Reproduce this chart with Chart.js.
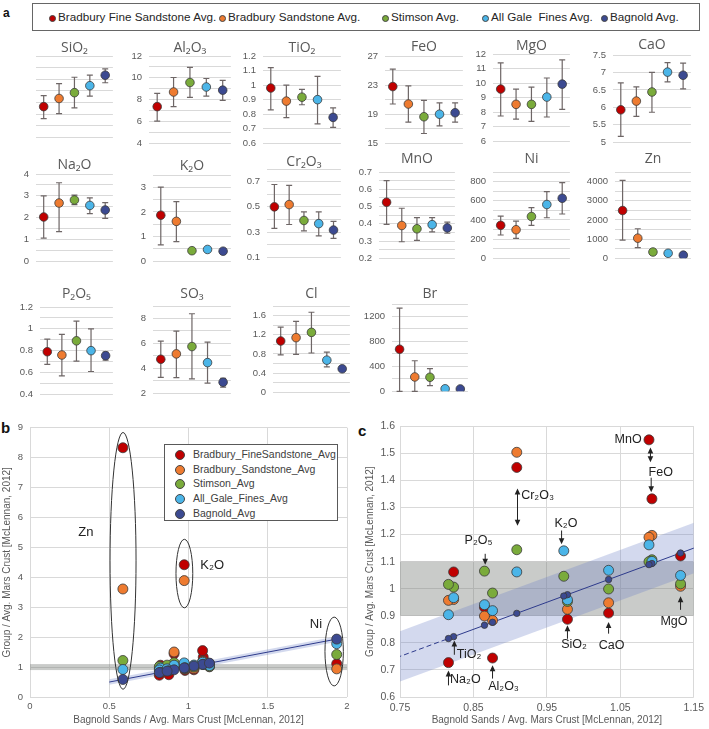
<!DOCTYPE html>
<html>
<head>
<meta charset="utf-8">
<script src="https://cdn.jsdelivr.net/npm/chart.js@4.4.0/dist/chart.umd.min.js"></script>
<style>
body { margin: 0; width: 709px; height: 729px; position: relative; background: #fff; overflow: hidden; font-family: 'Liberation Sans', Arial, sans-serif; }
.panel { position: absolute; }
.tag { position: absolute; font-weight: bold; color: #111; }
#legendA { position: absolute; left: 32px; top: 3px; width: 668px; height: 28px; border: 1px solid #666; box-sizing: border-box; }
#legendB { position: absolute; left: 164px; top: 444px; width: 174px; height: 77px; border: 1px solid #595959; box-sizing: border-box; background: #fff; }
.item { position: absolute; white-space: pre; color: #262626; }
.dot { position: absolute; border-radius: 50%; box-sizing: border-box; border: 1px solid #444; }
</style>
</head>
<body>
<div class="tag" style="left:3px;top:6px;font-size:12px;">a</div>
<div id="legendA"></div>
<div class="tag" style="left:1px;top:419px;font-size:15px;">b</div>
<div class="tag" style="left:358px;top:422px;font-size:15px;">c</div>
<div class="panel" style="left:0;top:415px;width:355px;height:314px;"><canvas id="chartB"></canvas></div>
<div class="panel" style="left:358px;top:415px;width:351px;height:314px;"><canvas id="chartC"></canvas></div>
<div id="legendB"></div>
<script>
// ---- panel a: group averages with error bars ----
const groupNames = ['Bradbury Fine Sandstone Avg.', 'Bradbury Sandstone Avg.', 'Stimson Avg.', 'All Gale  Fines Avg.', 'Bagnold Avg.'];
const seriesNames = ['Bradbury_FineSandstone_Avg', 'Bradbury_Sandstone_Avg', 'Stimson_Avg', 'All_Gale_Fines_Avg', 'Bagnold_Avg'];
const colors = ['#c00000', '#ee7b30', '#7aab3b', '#4bb5e8', '#3c4a91'];

const sio2Avg = [41.3, 42.7, 43.7, 44.9, 46.7];
const sio2Low = [39.25, 40.1, 41.1, 43.1, 45.4];
const sio2High = [43.2, 45.25, 46.35, 46.7, 47.8];
const al2o3Avg = [7.36, 8.7, 9.57, 9.16, 8.87];
const al2o3Low = [6.03, 7.36, 8.2, 8.32, 7.94];
const al2o3High = [8.58, 10.03, 10.96, 9.94, 9.77];
const tio2Avg = [0.98, 0.89, 0.917, 0.9, 0.778];
const tio2Low = [0.83, 0.776, 0.865, 0.733, 0.71];
const tio2High = [1.12, 1.0, 0.97, 1.06, 0.843];
const feoAvg = [22.8, 20.4, 18.65, 19.0, 19.2];
const feoLow = [20.4, 17.9, 16.35, 17.4, 17.9];
const feoHigh = [25.2, 22.9, 20.9, 20.56, 20.56];
const mgoAvg = [9.59, 8.54, 8.54, 9.04, 9.93];
const mgoLow = [7.74, 7.52, 7.37, 7.67, 8.2];
const mgoHigh = [11.39, 9.59, 9.72, 10.35, 11.6];
const caoAvg = [5.93, 6.18, 6.44, 7.01, 6.92];
const caoLow = [5.17, 5.74, 5.86, 6.73, 6.53];
const caoHigh = [6.7, 6.59, 7.0, 7.28, 7.27];
const na2oAvg = [2.03, 2.67, 2.81, 2.56, 2.35];
const na2oLow = [1.06, 1.36, 2.6, 2.18, 1.97];
const na2oHigh = [3.0, 3.6, 3.03, 2.91, 2.69];
const k2oAvg = [1.87, 1.62, 0.43, 0.48, 0.41];
const k2oLow = [0.67, 0.8, 0.39, 0.4, 0.37];
const k2oHigh = [3.01, 2.42, 0.47, 0.56, 0.45];
const cr2o3Avg = [0.5, 0.518, 0.392, 0.367, 0.316];
const cr2o3Low = [0.33, 0.36, 0.31, 0.27, 0.25];
const cr2o3High = [0.677, 0.67, 0.46, 0.46, 0.385];
const mnoAvg = [0.525, 0.39, 0.371, 0.395, 0.376];
const mnoLow = [0.396, 0.296, 0.304, 0.353, 0.345];
const mnoHigh = [0.65, 0.49, 0.436, 0.436, 0.41];
const niAvg = [344, 298, 436, 561, 626];
const niLow = [243, 207, 344, 423, 462];
const niHigh = [439, 387, 528, 695, 790];
const znAvg = [2492, 1049, 328, 262, 164];
const znLow = [951, 557, 250, 210, 125];
const znHigh = [4066, 1541, 410, 315, 205];
const p2o5Avg = [0.79, 0.76, 0.89, 0.8, 0.754];
const p2o5Low = [0.675, 0.568, 0.704, 0.609, 0.713];
const p2o5High = [0.906, 0.95, 1.07, 1.0, 0.787];
const so3Avg = [4.73, 5.16, 5.75, 4.46, 2.89];
const so3Low = [3.27, 3.25, 3.15, 2.81, 2.5];
const so3High = [6.18, 6.99, 8.38, 6.1, 3.19];
const clAvg = [1.07, 1.14, 1.25, 0.67, 0.49];
const clLow = [0.78, 0.79, 0.82, 0.53, 0.46];
const clHigh = [1.36, 1.48, 1.67, 0.84, 0.53];
const brAvg = [675, 230, 225, 40, 38];
const brLow = [0, 0, 90, 25, 25];
const brHigh = [1335, 490, 365, 55, 50];

// ---- panels b, c: ratios to average Mars crust ----
const ratioElements = ['SiO₂', 'TiO₂', 'Al₂O₃', 'Cr₂O₃', 'FeO', 'MnO', 'MgO', 'CaO', 'Na₂O', 'K₂O', 'P₂O₅', 'Ni', 'Zn'];
const bagnoldRatio = [0.978, 0.823, 0.876, 0.909, 1.093, 1.089, 1.132, 1.034, 0.816, 0.973, 0.865, 1.935, 0.586];
const fineSandRatio = [0.887, 1.062, 0.744, 1.448, 1.332, 1.55, 1.121, 0.91, 0.727, 4.42, 0.932, 1.11, 8.33];
const sandRatio = [0.924, 0.96, 0.883, 1.504, 1.197, 1.19, 1.009, 0.948, 0.957, 3.89, 0.899, 0.94, 3.61];
const stimsonRatio = [0.953, 1.006, 0.984, 1.144, 1.107, 1.1, 1.018, 0.999, 1.016, 1.046, 1.065, 1.42, 1.22];
const galeFinesRatio = [0.959, 0.967, 0.919, 1.062, 1.101, 1.162, 1.049, 1.068, 0.904, 1.14, 0.941, 1.78, 0.92];
const fitLineX = [0.5, 0.816, 1.94];
const bandHalfWidth = 0.093;
const unityBand = [0.9, 1.1];

const tickFont = "'Liberation Sans', Arial, sans-serif";
Chart.defaults.font.family = tickFont;
Chart.defaults.color = '#595959';

const panelSpecs = [
  { t: 'SiO₂', avg: sio2Avg, lo: sio2Low, hi: sio2High, min: 35, max: 50, step: 2, lab: 4, x0: 36, x1: 115, top: 56, bot: 148, ty: 48 },
  { t: 'Al₂O₃', avg: al2o3Avg, lo: al2o3Low, hi: al2o3High, min: 4, max: 12, step: 1, lab: 2, x0: 149, x1: 233, top: 56, bot: 148, ty: 48 },
  { t: 'TiO₂', avg: tio2Avg, lo: tio2Low, hi: tio2High, min: 0.6, max: 1.2, step: 0.1, lab: 0.1, x0: 263, x1: 343, top: 56, bot: 148, ty: 48 },
  { t: 'FeO', avg: feoAvg, lo: feoLow, hi: feoHigh, min: 15, max: 27, step: 2, lab: 4, x0: 385, x1: 465, top: 56, bot: 148, ty: 47 },
  { t: 'MgO', avg: mgoAvg, lo: mgoLow, hi: mgoHigh, min: 6, max: 12, step: 1, lab: 1, x0: 493, x1: 572, top: 54, bot: 146, ty: 46 },
  { t: 'CaO', avg: caoAvg, lo: caoLow, hi: caoHigh, min: 5, max: 7.5, step: 0.5, lab: 0.5, x0: 613, x1: 693, top: 55, bot: 147, ty: 45 },
  { t: 'Na₂O', avg: na2oAvg, lo: na2oLow, hi: na2oHigh, min: 0, max: 4, step: 0.5, lab: 1, x0: 36, x1: 115, top: 174, bot: 266, ty: 165 },
  { t: 'K₂O', avg: k2oAvg, lo: k2oLow, hi: k2oHigh, min: 0, max: 3.5, step: 0.5, lab: 1, x0: 153, x1: 233, top: 175, bot: 266, ty: 166 },
  { t: 'Cr₂O₃', avg: cr2o3Avg, lo: cr2o3Low, hi: cr2o3High, min: 0.1, max: 0.8, step: 0.1, lab: 0.2, x0: 267, x1: 343, top: 169, bot: 262, ty: 162 },
  { t: 'MnO', avg: mnoAvg, lo: mnoLow, hi: mnoHigh, min: 0.2, max: 0.7, step: 0.05, lab: 0.1, x0: 379, x1: 457, top: 172, bot: 263, ty: 159 },
  { t: 'Ni', avg: niAvg, lo: niLow, hi: niHigh, min: 0, max: 900, step: 100, lab: 200, x0: 493, x1: 572, top: 172, bot: 263, ty: 159 },
  { t: 'Zn', avg: znAvg, lo: znLow, hi: znHigh, min: 0, max: 4500, step: 500, lab: 1000, x0: 615, x1: 693, top: 172, bot: 263, ty: 159 },
  { t: 'P₂O₅', avg: p2o5Avg, lo: p2o5Low, hi: p2o5High, min: 0.4, max: 1.2, step: 0.1, lab: 0.2, x0: 40, x1: 115, top: 307, bot: 399, ty: 294 },
  { t: 'SO₃', avg: so3Avg, lo: so3Low, hi: so3High, min: 2, max: 9, step: 1, lab: 2, x0: 153, x1: 233, top: 306, bot: 398, ty: 294 },
  { t: 'Cl', avg: clAvg, lo: clLow, hi: clHigh, min: 0, max: 1.8, step: 0.2, lab: 0.4, x0: 273, x1: 352, top: 306, bot: 397, ty: 294 },
  { t: 'Br', avg: brAvg, lo: brLow, hi: brHigh, min: 0, max: 1400, step: 200, lab: 400, x0: 392, x1: 470, top: 304, bot: 396, ty: 294 }
];

// whiskers under the markers
const errorBars = {
  id: 'errorBars',
  beforeDatasetsDraw(chart) {
    const ds = chart.data.datasets[0];
    const { ctx, scales: { x, y } } = chart;
    ctx.save();
    ctx.strokeStyle = '#6e6666';
    ctx.lineWidth = 1.2;
    ds.errLow.forEach((lo, i) => {
      const px = x.getPixelForValue(i);
      const pLo = y.getPixelForValue(lo);
      const pHi = y.getPixelForValue(ds.errHigh[i]);
      ctx.beginPath();
      ctx.moveTo(px, pLo); ctx.lineTo(px, pHi);
      ctx.moveTo(px - 3, pLo); ctx.lineTo(px + 3, pLo);
      ctx.moveTo(px - 3, pHi); ctx.lineTo(px + 3, pHi);
      ctx.stroke();
    });
    ctx.restore();
  }
};

const panelTitle = {
  id: 'panelTitle',
  afterDraw(chart) {
    const ds = chart.data.datasets[0];
    const { ctx, chartArea } = chart;
    ctx.save();
    ctx.font = "14px 'Open Sans', 'DejaVu Sans', sans-serif";
    ctx.fillStyle = '#595959';
    ctx.textAlign = 'center';
    ctx.textBaseline = 'middle';
    ctx.fillText(ds.titleText, (chartArea.left + chartArea.right) / 2, chartArea.top - ds.titleGap);
    ctx.restore();
  }
};

panelSpecs.forEach(p => {
  const cTop = p.ty - 10;
  const div = document.createElement('div');
  div.className = 'panel';
  div.style.left = (p.x0 - 34) + 'px';
  div.style.top = cTop + 'px';
  div.style.width = (p.x1 - p.x0 + 37) + 'px';
  div.style.height = (p.bot + 8 - cTop) + 'px';
  const cv = document.createElement('canvas');
  div.appendChild(cv);
  document.body.appendChild(div);
  new Chart(cv, {
    type: 'line',
    data: {
      labels: groupNames,
      datasets: [{
        data: p.avg,
        errLow: p.lo,
        errHigh: p.hi,
        titleText: p.t,
        titleGap: p.top - p.ty,
        showLine: false,
        pointRadius: 4.3,
        pointBackgroundColor: colors,
        pointBorderColor: '#3a3a3a',
        pointBorderWidth: 0.8
      }]
    },
    options: {
      responsive: true,
      maintainAspectRatio: false,
      animation: false,
      events: [],
      layout: { padding: { top: p.top - cTop, bottom: 8, left: 0, right: 3 } },
      plugins: { legend: { display: false }, tooltip: { enabled: false } },
      scales: {
        x: { type: 'category', offset: true, display: false },
        y: {
          min: p.min,
          max: p.max,
          afterFit(s) { s.width = 34; },
          border: { display: false },
          grid: { color: '#d9d9d9', drawTicks: false },
          ticks: {
            stepSize: p.step,
            includeBounds: false,
            autoSkip: false,
            padding: 7,
            color: '#595959',
            font: { size: 9.5 },
            callback(v) {
              const k = (v - p.min) / p.lab;
              return Math.abs(k - Math.round(k)) < 1e-6 ? String(+v.toFixed(4)) : '';
            }
          }
        }
      }
    },
    plugins: [errorBars, panelTitle]
  });
});

// top legend
const legendA = document.getElementById('legendA');
const legendADots = [19, 189, 352, 452, 571];
groupNames.forEach((name, i) => {
  const d = document.createElement('div');
  d.className = 'dot';
  d.style.cssText = `left:${legendADots[i] - 3.5}px;top:10.5px;width:7px;height:7px;background:${colors[i]};border-width:0.5px;`;
  legendA.appendChild(d);
  const t = document.createElement('div');
  t.className = 'item';
  t.style.cssText = `left:${legendADots[i] + 6}px;top:5.5px;font-size:11.7px;`;
  t.textContent = name;
  legendA.appendChild(t);
});

// legend for panel b
const legendB = document.getElementById('legendB');
seriesNames.forEach((name, i) => {
  const d = document.createElement('div');
  d.className = 'dot';
  d.style.cssText = `left:10px;top:${5 + i * 14.7}px;width:10px;height:10px;background:${colors[i]};`;
  legendB.appendChild(d);
  const t = document.createElement('div');
  t.className = 'item';
  t.style.cssText = `left:28px;top:${3 + i * 14.7}px;font-size:10.5px;color:#404040;`;
  t.textContent = name;
  legendB.appendChild(t);
});

// ---- scatter panels ----
const unityBandPlugin = {
  id: 'unityBand',
  beforeDatasetsDraw(chart) {
    const { ctx, chartArea: a, scales: { y } } = chart;
    const t = y.getPixelForValue(unityBand[1]);
    const b = y.getPixelForValue(unityBand[0]);
    ctx.save();
    ctx.fillStyle = 'rgba(120,125,120,0.4)';
    ctx.fillRect(a.left, t, a.right - a.left, b - t);
    ctx.restore();
  }
};

function ratioDatasets(navyRadius, dashEnd) {
  const pts = ys => bagnoldRatio.map((x, i) => ({ x, y: ys[i] }));
  const series = [fineSandRatio, sandRatio, stimsonRatio, galeFinesRatio, bagnoldRatio];
  const sets = series.map((ys, i) => ({
    label: seriesNames[i],
    data: pts(ys),
    backgroundColor: colors[i],
    borderColor: '#3a3a3a',
    borderWidth: 0.8,
    pointRadius: i === 4 ? navyRadius : 5,
    order: 5 - i
  }));
  sets.push({
    label: 'band low', type: 'line', data: fitLineX.map(x => ({ x, y: x - bandHalfWidth })),
    borderWidth: 0, pointRadius: 0, fill: false, order: 11
  });
  sets.push({
    label: 'band high', type: 'line', data: fitLineX.map(x => ({ x, y: x + bandHalfWidth })),
    borderWidth: 0, pointRadius: 0, fill: '-1', backgroundColor: 'rgba(110,128,200,0.3)', order: 10
  });
  sets.push({
    label: 'fit', type: 'line', data: fitLineX.map(x => ({ x, y: x })),
    borderColor: '#2e3b8c', borderWidth: 1, pointRadius: 0, fill: false, order: 9,
    segment: { borderDash: c => (dashEnd && c.p1.parsed.x <= dashEnd + 1e-9) ? [5, 3] : undefined }
  });
  return sets;
}

function fmt(v) { return String(+v.toFixed(3)); }

function overlayPlugin(draw) {
  return { id: 'overlay', afterDatasetsDraw(chart) { const ctx = chart.ctx; ctx.save(); draw(ctx, chart.scales.x, chart.scales.y); ctx.restore(); } };
}

// panel b annotations: [centre x, centre y, radius x, radius y]
const zoneEllipses = [[0.587, 4.55, 0.082, 4.29], [0.974, 4.125, 0.053, 1.145], [1.919, 1.52, 0.058, 1.15]];
const zoneLabels = [['Zn', 0.353, 5.49], ['K₂O', 1.15, 4.385], ['Ni', 1.804, 2.425]];

new Chart(document.getElementById('chartB'), {
  type: 'scatter',
  data: { datasets: ratioDatasets(5, null) },
  options: {
    responsive: true, maintainAspectRatio: false, animation: false, events: [],
    layout: { padding: { top: 11, right: 8, left: 0, bottom: 0 } },
    plugins: { legend: { display: false }, tooltip: { enabled: false } },
    scales: {
      x: {
        type: 'linear', min: 0, max: 2,
        afterFit(s) { s.height = 32; },
        border: { display: false },
        grid: { color: '#d9d9d9', drawTicks: false },
        ticks: { stepSize: 0.5, padding: 4, font: { size: 9.5 }, callback: fmt },
        title: { display: true, text: 'Bagnold Sands / Avg. Mars Crust [McLennan, 2012]', font: { size: 10 }, padding: { top: 0, bottom: 3 } }
      },
      y: {
        type: 'linear', min: 0, max: 9,
        afterFit(s) { s.width = 30; },
        border: { display: false },
        grid: { color: '#d9d9d9', drawTicks: false },
        ticks: { stepSize: 1, padding: 7, font: { size: 9.5 }, callback: fmt },
        title: { display: true, text: 'Group / Avg. Mars Crust [McLennan, 2012]', font: { size: 10 }, padding: { top: 1, bottom: 0 } }
      }
    }
  },
  plugins: [unityBandPlugin, overlayPlugin((ctx, xs, ys) => {
    ctx.strokeStyle = '#333';
    ctx.lineWidth = 1;
    zoneEllipses.forEach(([cx, cy, rx, ry]) => {
      const px = xs.getPixelForValue(cx), py = ys.getPixelForValue(cy);
      ctx.beginPath();
      ctx.ellipse(px, py, Math.abs(xs.getPixelForValue(cx + rx) - px), Math.abs(ys.getPixelForValue(cy + ry) - py), 0, 0, Math.PI * 2);
      ctx.stroke();
    });
    ctx.fillStyle = '#222';
    ctx.font = "13px 'Liberation Sans', Arial, sans-serif";
    ctx.textAlign = 'center';
    ctx.textBaseline = 'middle';
    zoneLabels.forEach(([txt, x, y]) => ctx.fillText(txt, xs.getPixelForValue(x), ys.getPixelForValue(y)));
  })]
});

// panel c annotations: arrows [x, from y, to y, double headed], labels [text, x, y, align]
const calloutArrows = [
  [1.091, 1.467, 1.522, true], [1.092, 1.41, 1.356, false], [0.91, 1.233, 1.37, true],
  [0.97, 1.215, 1.164, false], [0.866, 1.129, 1.089, false], [0.824, 0.756, 0.809, false],
  [0.816, 0.643, 0.698, false], [0.876, 0.668, 0.717, false], [0.978, 0.815, 0.865, false],
  [1.034, 0.834, 0.877, false], [1.132, 0.922, 0.972, false]
];
const calloutLabels = [
  ['MnO', 1.079, 1.55, 'right'], ['FeO', 1.105, 1.428, 'center'], ['Cr₂O₃', 0.915, 1.345, 'left'],
  ['K₂O', 0.976, 1.241, 'center'], ['P₂O₅', 0.857, 1.179, 'center'], ['TiO₂', 0.844, 0.755, 'center'],
  ['Na₂O', 0.839, 0.665, 'center'], ['Al₂O₃', 0.891, 0.638, 'center'], ['SiO₂', 0.987, 0.792, 'center'],
  ['CaO', 1.038, 0.789, 'center'], ['MgO', 1.123, 0.878, 'center']
];

function head(ctx, x, y, dir) {
  ctx.beginPath();
  ctx.moveTo(x, y);
  ctx.lineTo(x - 2.8, y - dir * 6);
  ctx.lineTo(x + 2.8, y - dir * 6);
  ctx.closePath();
  ctx.fill();
}

new Chart(document.getElementById('chartC'), {
  type: 'scatter',
  data: { datasets: ratioDatasets(3.2, 0.816) },
  options: {
    responsive: true, maintainAspectRatio: false, animation: false, events: [],
    layout: { padding: { top: 11, right: 11, left: 0, bottom: 0 } },
    plugins: { legend: { display: false }, tooltip: { enabled: false } },
    scales: {
      x: {
        type: 'linear', min: 0.75, max: 1.15,
        afterFit(s) { s.height = 32; },
        border: { display: false },
        grid: { color: '#d9d9d9', drawTicks: false },
        ticks: { stepSize: 0.1, padding: 5, font: { size: 10.5 }, callback: v => v.toFixed(2) },
        title: { display: true, text: 'Bagnold Sands / Avg. Mars Crust [McLennan, 2012]', font: { size: 10 }, padding: { top: 0, bottom: 3 } }
      },
      y: {
        type: 'linear', min: 0.6, max: 1.6,
        afterFit(s) { s.width = 42; },
        border: { display: false },
        grid: { color: '#d9d9d9', drawTicks: false },
        ticks: { stepSize: 0.1, padding: 5, font: { size: 10.5 }, callback: fmt },
        title: { display: true, text: 'Group / Avg. Mars Crust [McLennan, 2012]', font: { size: 10 }, padding: { top: 6, bottom: 0 } }
      }
    }
  },
  plugins: [unityBandPlugin, overlayPlugin((ctx, xs, ys) => {
    ctx.strokeStyle = '#222';
    ctx.fillStyle = '#222';
    ctx.lineWidth = 1;
    calloutArrows.forEach(([x, y1, y2, both]) => {
      const px = xs.getPixelForValue(x), p1 = ys.getPixelForValue(y1), p2 = ys.getPixelForValue(y2);
      const dir = Math.sign(p2 - p1);
      ctx.beginPath();
      ctx.moveTo(px, both ? p1 + dir * 5 : p1);
      ctx.lineTo(px, p2 - dir * 5);
      ctx.stroke();
      head(ctx, px, p2, dir);
      if (both) head(ctx, px, p1, -dir);
    });
    ctx.font = "12.5px 'Liberation Sans', Arial, sans-serif";
    ctx.textBaseline = 'middle';
    calloutLabels.forEach(([txt, x, y, align]) => {
      ctx.textAlign = align;
      ctx.fillText(txt, xs.getPixelForValue(x), ys.getPixelForValue(y));
    });
  })]
});
</script>
</body>
</html>
